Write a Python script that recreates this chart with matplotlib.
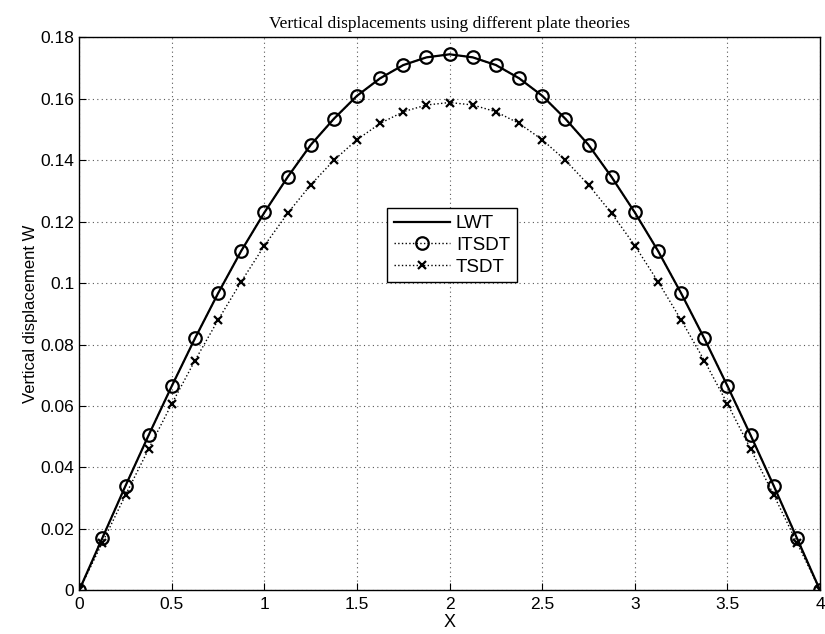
import numpy as np
import matplotlib
matplotlib.use("Agg")
import matplotlib.pyplot as plt

# values, x step 0.125
x = np.arange(0, 4.0001, 0.125)
w_lwt = [0, 0.017, 0.034, 0.0505, 0.0665, 0.082, 0.0967, 0.1105, 0.123, 0.1345, 0.145, 0.1535,
         0.161, 0.1667, 0.171, 0.1735, 0.1745, 0.1735, 0.171, 0.1667, 0.161, 0.1535, 0.145,
         0.1345, 0.123, 0.1105, 0.0967, 0.082, 0.0665, 0.0505, 0.034, 0.017, 0]
w_itsdt = list(w_lwt)
w_tsdt = [0, 0.0155, 0.031, 0.046, 0.0607, 0.0748, 0.088, 0.1005, 0.1122, 0.1227, 0.132, 0.140,
          0.1467, 0.152, 0.1558, 0.158, 0.1588, 0.158, 0.1558, 0.152, 0.1467, 0.140, 0.132,
          0.1227, 0.1122, 0.1005, 0.088, 0.0748, 0.0607, 0.046, 0.031, 0.0155, 0]

plt.rcParams['font.family'] = ['Liberation Sans', 'DejaVu Sans']

fig = plt.figure(figsize=(8.25, 6.34), dpi=100)
ax = fig.add_axes([0.096, 0.069, 0.898, 0.872])

ax.plot(x, w_lwt, '-', color='k', linewidth=1.6, label='LWT')
ax.plot(x, w_itsdt, ':', color='k', linewidth=1.0, marker='o', markersize=9,
        markerfacecolor='none', markeredgewidth=1.6, label='ITSDT')
ax.plot(x, w_tsdt, ':', color='k', linewidth=1.0, marker='x', markersize=6,
        markeredgewidth=1.6, label='TSDT')

ax.set_xlim(0, 4)
ax.set_ylim(0, 0.18)
ax.set_xticks(np.arange(0, 4.01, 0.5))
ax.set_xticklabels(['0', '0.5', '1', '1.5', '2', '2.5', '3', '3.5', '4'])
ax.set_yticks(np.arange(0, 0.181, 0.02))
ax.set_yticklabels(['0', '0.02', '0.04', '0.06', '0.08', '0.1', '0.12', '0.14', '0.16', '0.18'])
ax.tick_params(direction='in', labelsize=12.5, length=5, width=0.8)
ax.tick_params(axis='x', pad=5)
ax.grid(True, linestyle=(0, (1, 3)), color='0.35', linewidth=0.8)
for s in ax.spines.values():
    s.set_linewidth(1.0)

ax.set_xlabel('X', fontsize=13, labelpad=1)
ax.set_ylabel('Vertical displacement W', fontsize=12, labelpad=2)
ax.set_title('Vertical displacements using different plate theories',
             fontsize=12.5, family='Liberation Serif', pad=7)

leg = ax.legend(loc='lower left', bbox_to_anchor=(0.416, 0.557), fontsize=13.5,
                frameon=True, fancybox=False, edgecolor='k', framealpha=1,
                handlelength=3.0, borderpad=0.35, labelspacing=0.25, handletextpad=0.3,
                borderaxespad=0)
leg.get_frame().set_linewidth(1.0)

fig.savefig('out.png', dpi=100)
